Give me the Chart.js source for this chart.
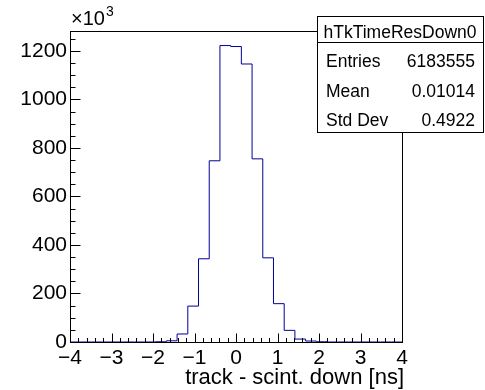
<!DOCTYPE html>
<html>
<head>
<meta charset="utf-8">
<script src="https://cdn.jsdelivr.net/npm/chart.js@4/dist/chart.umd.min.js"></script>
<style>
  html, body { margin: 0; padding: 0; background: #fff; }
  canvas { display: block; }
</style>
</head>
<body>
<canvas id="myChart" width="485" height="390"></canvas>
<script>
// histogram hTkTimeResDown0, counts in units of 10^3
let xMin = -4;
let xMax = 4;
let nBins = 31;
let counts = [0, 0, 0, 0, 0, 0, 0, 0, 1, 5, 33, 148, 343, 747, 1222, 1218,
              1146, 755, 347, 158, 48, 12, 4, 1, 0, 0, 0, 0, 0, 0, 0];
let xTicks = [-4, -3, -2, -1, 0, 1, 2, 3, 4];
let yTicks = [0, 200, 400, 600, 800, 1000, 1200];
let yMax = 1282;
let statNames = ['Entries', 'Mean', 'Std Dev'];
let statValues = ['6183555', '0.01014', '0.4922'];
let histName = 'hTkTimeResDown0';
let xTitle = 'track - scint. down [ns]';

let FONT = '"Liberation Sans", Arial, sans-serif';

// step outline: one point per bin low edge, plus the last high edge
let points = [];
let binWidth = (xMax - xMin) / nBins;
for (let i = 0; i < nBins; i++) {
    points.push({ x: xMin + i * binWidth, y: counts[i] });
}
points.push({ x: xMax, y: 0 });

let rootStyle = {
    id: 'rootStyle',
    afterDraw(chart) {
        let ctx = chart.ctx;
        let a = chart.chartArea;
        let xs = chart.scales.x;
        let ys = chart.scales.y;
        ctx.save();
        ctx.strokeStyle = '#000';
        ctx.lineWidth = 1;

        // frame
        ctx.strokeRect(Math.round(a.left) + 0.5, Math.round(a.top) + 0.5,
            Math.round(a.right - a.left), Math.round(a.bottom - a.top));

        // x ticks, inside the frame
        ctx.beginPath();
        let yb = Math.round(a.bottom) + 0.5;
        for (let v = xMin; v <= xMax + 1e-9; v += 0.2) {
            let px = Math.round(xs.getPixelForValue(v)) + 0.5;
            let major = Math.abs(v - Math.round(v)) < 1e-6;
            ctx.moveTo(px, yb);
            ctx.lineTo(px, yb - (major ? 9 : 4.5));
        }
        // y ticks
        let xl = Math.round(a.left) + 0.5;
        for (let v = 0; v <= yMax; v += 50) {
            let py = Math.round(ys.getPixelForValue(v)) + 0.5;
            let major = v % 200 === 0;
            ctx.moveTo(xl, py);
            ctx.lineTo(xl + (major ? 10 : 5), py);
        }
        ctx.stroke();

        // exponent label
        ctx.fillStyle = '#000';
        ctx.textBaseline = 'alphabetic';
        ctx.textAlign = 'left';
        ctx.font = '20px ' + FONT;
        ctx.fillText('\u00d710', a.left + 1, 25);
        let w = ctx.measureText('\u00d710').width;
        ctx.font = '14px ' + FONT;
        ctx.fillText('3', a.left + 2 + w, 16);

        // axis title
        ctx.font = '22px ' + FONT;
        ctx.textAlign = 'right';
        ctx.fillText(xTitle, a.right + 2, 384);

        // stats box
        let bx = 317, by = 16, bw = 166, bh = 116;
        ctx.fillStyle = '#fff';
        ctx.fillRect(bx, by, bw, bh);
        ctx.strokeRect(bx + 0.5, by + 0.5, bw, bh);
        ctx.beginPath();
        ctx.moveTo(bx, by + 26.5);
        ctx.lineTo(bx + bw, by + 26.5);
        ctx.stroke();
        ctx.fillStyle = '#000';
        ctx.font = '17.5px ' + FONT;
        ctx.textAlign = 'center';
        ctx.fillText(histName, bx + bw / 2, by + 22);
        for (let i = 0; i < statNames.length; i++) {
            let ty = by + 51 + i * 29.7;
            ctx.textAlign = 'left';
            ctx.fillText(statNames[i], bx + 9, ty);
            ctx.textAlign = 'right';
            ctx.fillText(statValues[i], bx + bw - 8, ty);
        }
        ctx.restore();
    }
};

let myChart = document.getElementById('myChart').getContext('2d');
let chart = new Chart(myChart, {
    type: 'line',
    data: {
        datasets: [{
            data: points,
            stepped: 'before',
            borderColor: '#000099',
            borderWidth: 1,
            pointRadius: 0,
            fill: false,
            tension: 0
        }]
    },
    options: {
        responsive: false,
        animation: false,
        devicePixelRatio: 1,
        layout: { padding: { top: 31, right: 83, left: 0, bottom: 0 } },
        plugins: {
            legend: { display: false },
            title: { display: false },
            tooltip: { enabled: false }
        },
        scales: {
            x: {
                type: 'linear',
                min: xMin,
                max: xMax,
                afterFit: function (s) { s.height = 48; },
                afterBuildTicks: function (s) { s.ticks = xTicks.map(v => ({ value: v })); },
                grid: { display: false, drawTicks: false },
                border: { display: false },
                ticks: {
                    autoSkip: false,
                    maxRotation: 0,
                    padding: 4,
                    color: '#000',
                    font: { family: FONT, size: 21 },
                    callback: v => String(v).replace('-', '\u2212')
                }
            },
            y: {
                type: 'linear',
                min: 0,
                max: yMax,
                afterFit: function (s) { s.width = 70; },
                afterBuildTicks: function (s) { s.ticks = yTicks.map(v => ({ value: v })); },
                grid: { display: false, drawTicks: false },
                border: { display: false },
                ticks: {
                    padding: 3,
                    color: '#000',
                    font: { family: FONT, size: 21 },
                    callback: v => String(v)
                }
            }
        }
    },
    plugins: [rootStyle]
});
</script>
</body>
</html>
